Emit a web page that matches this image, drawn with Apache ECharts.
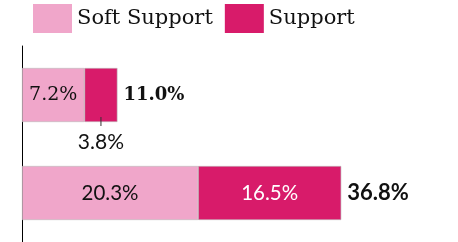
<!DOCTYPE html>
<html>
<head>
<meta charset="utf-8">
<script src="https://cdn.jsdelivr.net/npm/echarts@6/dist/echarts.min.js"></script>
<style>
html, body { margin: 0; padding: 0; background: #fff; }
#chart { width: 458px; height: 242px; }
</style>
</head>
<body>
<div id="chart"></div>
<script>
// data
var categories = ['row1', 'row2'];
var softSupport = [7.2, 20.3];
var support = [3.8, 16.5];
var totals = [11.0, 36.8];

var SERIF = '"DejaVu Serif", serif';
var SANS = 'Lato, "Open Sans", sans-serif';

var chart = echarts.init(document.getElementById('chart'));

function pct(p) { return p.value.toFixed(1) + '%'; }

chart.setOption({
    animation: false,
    legend: {
        data: ['Soft Support', 'Support'],
        left: 33,
        top: 4,
        padding: 0,
        itemWidth: 39,
        itemHeight: 29,
        itemGap: 12,
        icon: 'rect',
        itemStyle: { borderWidth: 0 },
        textStyle: { fontFamily: SERIF, fontSize: 21, color: '#111', padding: [4, 0, 0, 0] }
    },
    grid: { left: 22, top: 46, width: 347, height: 198 },
    xAxis: {
        type: 'value', min: 0, max: 40,
        show: false
    },
    yAxis: {
        type: 'category',
        data: categories,
        inverse: true,
        axisLine: { show: true, lineStyle: { color: '#000', width: 1 } },
        axisTick: { show: false },
        axisLabel: { show: false }
    },
    series: [{
        name: 'Soft Support',
        type: 'bar',
        stack: 'a',
        barWidth: 54,
        // first row uses serif labels, second row sans (as in the picture)
        data: softSupport.map(function (v, i) {
            return { value: v, label: { fontFamily: i === 0 ? SERIF : SANS, fontSize: i === 0 ? 19 : 20.5 } };
        }),
        itemStyle: { color: '#F0A6CA', borderColor: '#bbb', borderWidth: 0.6 },
        label: {
            show: true,
            position: 'inside',
            formatter: pct,
            color: '#111'
        }
    }, {
        name: 'Support',
        type: 'bar',
        stack: 'a',
        barWidth: 54,
        data: support.map(function (v, i) {
            if (i === 0) {
                return {
                    value: v,
                    label: {
                        position: 'bottom',
                        offset: [0, -10],
                        color: '#111',
                        formatter: '{line|}\n{v|{c}%}',
                        rich: {
                            line: { width: 1, height: 9, backgroundColor: '#333', align: 'center' },
                            v: { fontFamily: SANS, fontSize: 21, color: '#111', lineHeight: 32, align: 'center' }
                        }
                    }
                };
            }
            return v;
        }),
        itemStyle: { color: '#D81B6A', borderColor: '#bbb', borderWidth: 0.6 },
        label: {
            show: true,
            position: 'inside',
            formatter: pct,
            color: '#fff',
            fontFamily: SANS,
            fontSize: 20.5
        }
    }, {
        name: 'Total',
        type: 'bar',
        barWidth: 54,
        barGap: '-100%',
        z: 1,
        data: totals.map(function (v, i) {
            return { value: v, label: { fontFamily: i === 0 ? SERIF : SANS, fontSize: i === 0 ? 18 : 22 } };
        }),
        itemStyle: { color: 'rgba(0,0,0,0)' },
        label: {
            show: true,
            position: 'right',
            distance: 6,
            formatter: pct,
            color: '#111',
            fontWeight: 'bold'
        }
    }]
});
</script>
</body>
</html>
